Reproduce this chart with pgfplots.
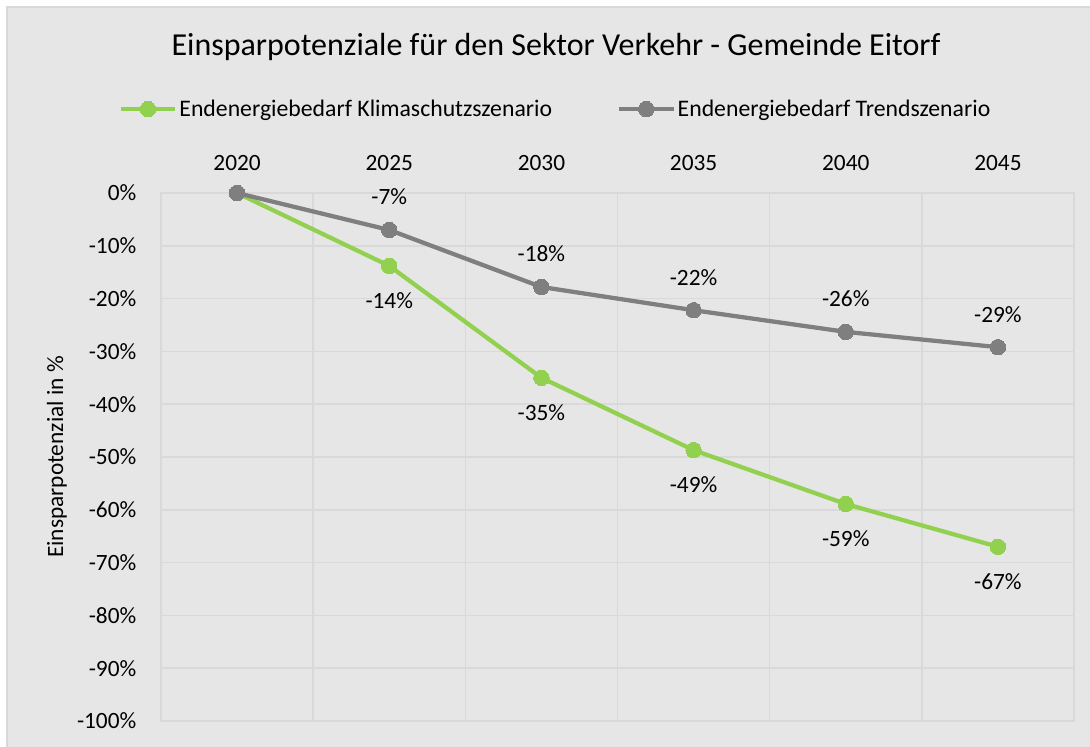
\documentclass[border=0pt]{standalone}
\usepackage{pgfplots}
\pgfplotsset{compat=1.18}
\usepackage{fontspec}
\setmainfont{Carlito}
\definecolor{cgreen}{HTML}{92D050}
\definecolor{cgrey}{HTML}{7F7F7F}
\definecolor{cbg}{HTML}{E7E6E6}
\definecolor{cgrid}{HTML}{D9D9D9}
\begin{document}
\begin{tikzpicture}
\useasboundingbox (0,0) rectangle (817.5bp,560.25bp);
\fill[white] (0,0) rectangle (817.5bp,560.25bp);
\fill[cbg] (5.25bp,0) rectangle (817.5bp,555bp);
\draw[cgrid, line width=1.2bp] (5.25bp,-1bp) -- (5.25bp,555bp) -- (818.5bp,555bp);
\node[font=\fontsize{24bp}{28bp}\selectfont, anchor=center] at (417bp,525bp) {Einsparpotenziale für den Sektor Verkehr - Gemeinde Eitorf};
\begin{axis}[
  at={(120.75bp,19.5bp)}, anchor=south west,
  width=684.75bp, height=396bp, scale only axis,
  xmin=-0.5, xmax=5.5, ymin=-100, ymax=0,
  xtick={0,1,2,3,4,5},
  xticklabels={2020,2025,2030,2035,2040,2045},
  xticklabel pos=upper,
  minor xtick={-0.5,0.5,1.5,2.5,3.5,4.5,5.5},
  xminorgrids, ymajorgrids,
  ytick={-100,-90,-80,-70,-60,-50,-40,-30,-20,-10,0},
  yticklabels={-100\%,-90\%,-80\%,-70\%,-60\%,-50\%,-40\%,-30\%,-20\%,-10\%,0\%},
  major tick length=0pt, minor tick length=0pt,
  xticklabel shift=0pt, yticklabel shift=0pt,
  tick style={draw=none},
  grid style={cgrid, line width=1.2bp},
  minor grid style={cgrid, line width=1.2bp},
  axis line style={cgrid, line width=1.2bp},
  ticklabel style={font=\fontsize{17.5bp}{21bp}\selectfont},
  xticklabel style={anchor=base, yshift=17bp},
  yticklabel style={anchor=east, xshift=-15bp},
  ylabel={Einsparpotenzial in \%},
  ylabel style={at={(axis description cs:-0.1139,0.5)}, anchor=center, font=\fontsize{17.5bp}{21bp}\selectfont},
  legend style={at={(axis description cs:0.432,1.159)}, anchor=center, draw=none, fill=none,
    font=\fontsize{17.8bp}{21bp}\selectfont, column sep=0pt, inner sep=0pt,
    nodes={inner xsep=1.5bp},
    /tikz/every even column/.append style={column sep=47bp}},
  legend columns=2,
  legend image code/.code={\draw[mark repeat=2,mark phase=2,#1] plot coordinates {(0bp,0bp) (20.5bp,0bp) (41bp,0bp)};},
  point meta=explicit symbolic,
  nodes near coords,
  every node near coord/.append style={font=\fontsize{17.5bp}{21bp}\selectfont, anchor=center, text=black},
]
\addplot[cgreen, line width=3.2bp, mark=*, mark size=5.8bp, mark options={fill=cgreen, draw=cgreen, line width=0pt},
  nodes near coords style={yshift=-26.25bp}]
  coordinates {(0,0) [] (1,-13.8) [-14\%] (2,-35.0) [-35\%] (3,-48.7) [-49\%] (4,-58.9) [-59\%] (5,-67.0) [-67\%]};
\addlegendentry{Endenergiebedarf Klimaschutzszenario}
\addplot[cgrey, line width=3.2bp, mark=*, mark size=5.8bp, mark options={fill=cgrey, draw=cgrey, line width=0pt},
  nodes near coords style={yshift=24.75bp}]
  coordinates {(0,0) [] (1,-7.0) [-7\%] (2,-17.8) [-18\%] (3,-22.2) [-22\%] (4,-26.3) [-26\%] (5,-29.2) [-29\%]};
\addlegendentry{Endenergiebedarf Trendszenario}
\end{axis}
\end{tikzpicture}
\end{document}
